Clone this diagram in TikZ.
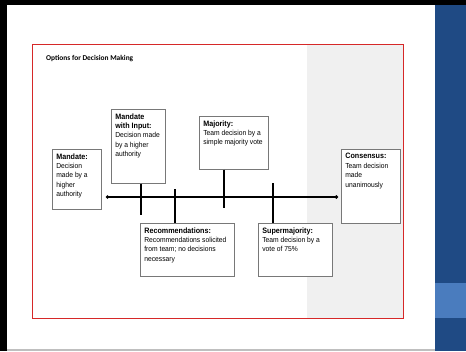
\documentclass[tikz,border=0pt]{standalone}
\usepackage{fontspec}
\setmainfont{Liberation Sans}
\newfontfamily\titlefont{Carlito}
\newfontfamily\bodyfont[FakeStretch=0.92]{Liberation Sans}
\usetikzlibrary{arrows.meta}

\definecolor{slideblue}{RGB}{31,74,132}
\definecolor{bandblue}{RGB}{74,124,190}
\definecolor{framered}{RGB}{214,40,40}
\definecolor{panelgray}{RGB}{240,240,240}
\definecolor{boxedge}{RGB}{120,120,120}

\pgfdeclareradialshading{slidevignette}{\pgfpoint{0bp}{0bp}}{%
  color(0bp)=(white); color(40bp)=(white); color(72bp)=(black!22)}

% heading line of an option box
\newcommand{\opthead}[1]{{\fontsize{7.8}{9.4}\selectfont\bfseries #1}}

% option box: width, height, text (top-left aligned, padded by inner sep)
\newcommand{\optcell}[3]{%
  \parbox[c][\dimexpr#2pt-8pt\relax][t]{\dimexpr#1pt-8pt\relax}{%
    \raggedright\bodyfont\fontsize{7.3}{9.4}\selectfont #3}}

\tikzset{
  optbox/.style={draw=boxedge, line width=0.7pt, fill=white,
    inner sep=4pt, anchor=north west},
  timeline/.style={line width=1.3pt, black,
    {Circle[length=3pt]}-{Circle[length=3.4pt]}},
  tick/.style={line width=1.3pt, black}
}

\begin{document}
\begin{tikzpicture}[x=1pt, y=-1pt]
\useasboundingbox (0,0) rectangle (466,351);

% slide background and edges
\fill[black] (0,0) rectangle (466,351);
\shade[shading=slidevignette] (7,5) rectangle (435,349);
\fill[slideblue] (435,5) rectangle (466,351);
\fill[bandblue] (435,283) rectangle (466,318);
\fill[black!25] (7,349) rectangle (435,351);

% content frame with grey right panel
\fill[white] (32,44) rectangle (307,318);
\fill[panelgray] (307,44) rectangle (403,318);
\draw[framered, line width=0.8pt] (32,44) rectangle (403,318);

\node[anchor=west, inner sep=0pt, font=\titlefont\bfseries\fontsize{7.4}{8.5}\selectfont]
  (title) at (46,59) {Options for Decision Making};

% option boxes
\node[optbox] (mandate) at (52,149)
  {\optcell{49}{60}{\opthead{Mandate:}\\Decision made by a higher authority}};
\node[optbox] (input) at (111,109)
  {\optcell{54}{74}{\opthead{Mandate\\with Input:}\\Decision made by a higher authority}};
\node[optbox] (majority) at (199,116)
  {\optcell{69}{53}{\opthead{Majority:}\\Team decision by a simple majority vote}};
\node[optbox] (consensus) at (341,149)
  {\optcell{59}{74}{\opthead{Consensus:}\\Team decision made unanimously}};
\node[optbox] (recommend) at (140,223)
  {\optcell{94}{53}{\opthead{Recommendations:}\\Recommendations solicited from team; no decisions necessary}};
\node[optbox] (supermaj) at (258,223)
  {\optcell{74}{53}{\opthead{Supermajority:}\\Team decision by a vote of 75\%}};

% timeline and its ticks
\coordinate (lineL) at (106,197);
\coordinate (lineR) at (338,197);
\draw[timeline] (lineL) -- (lineR);

\coordinate (tickA) at (141,215);
\coordinate (tickB) at (175,189);
\coordinate (tickC) at (224,208);
\coordinate (tickD) at (273,183);
\draw[tick] (input.south -| tickA) -- (tickA);
\draw[tick] (tickB) -- (recommend.north -| tickB);
\draw[tick] (majority.south -| tickC) -- (tickC);
\draw[tick] (tickD) -- (supermaj.north -| tickD);
\end{tikzpicture}
\end{document}
